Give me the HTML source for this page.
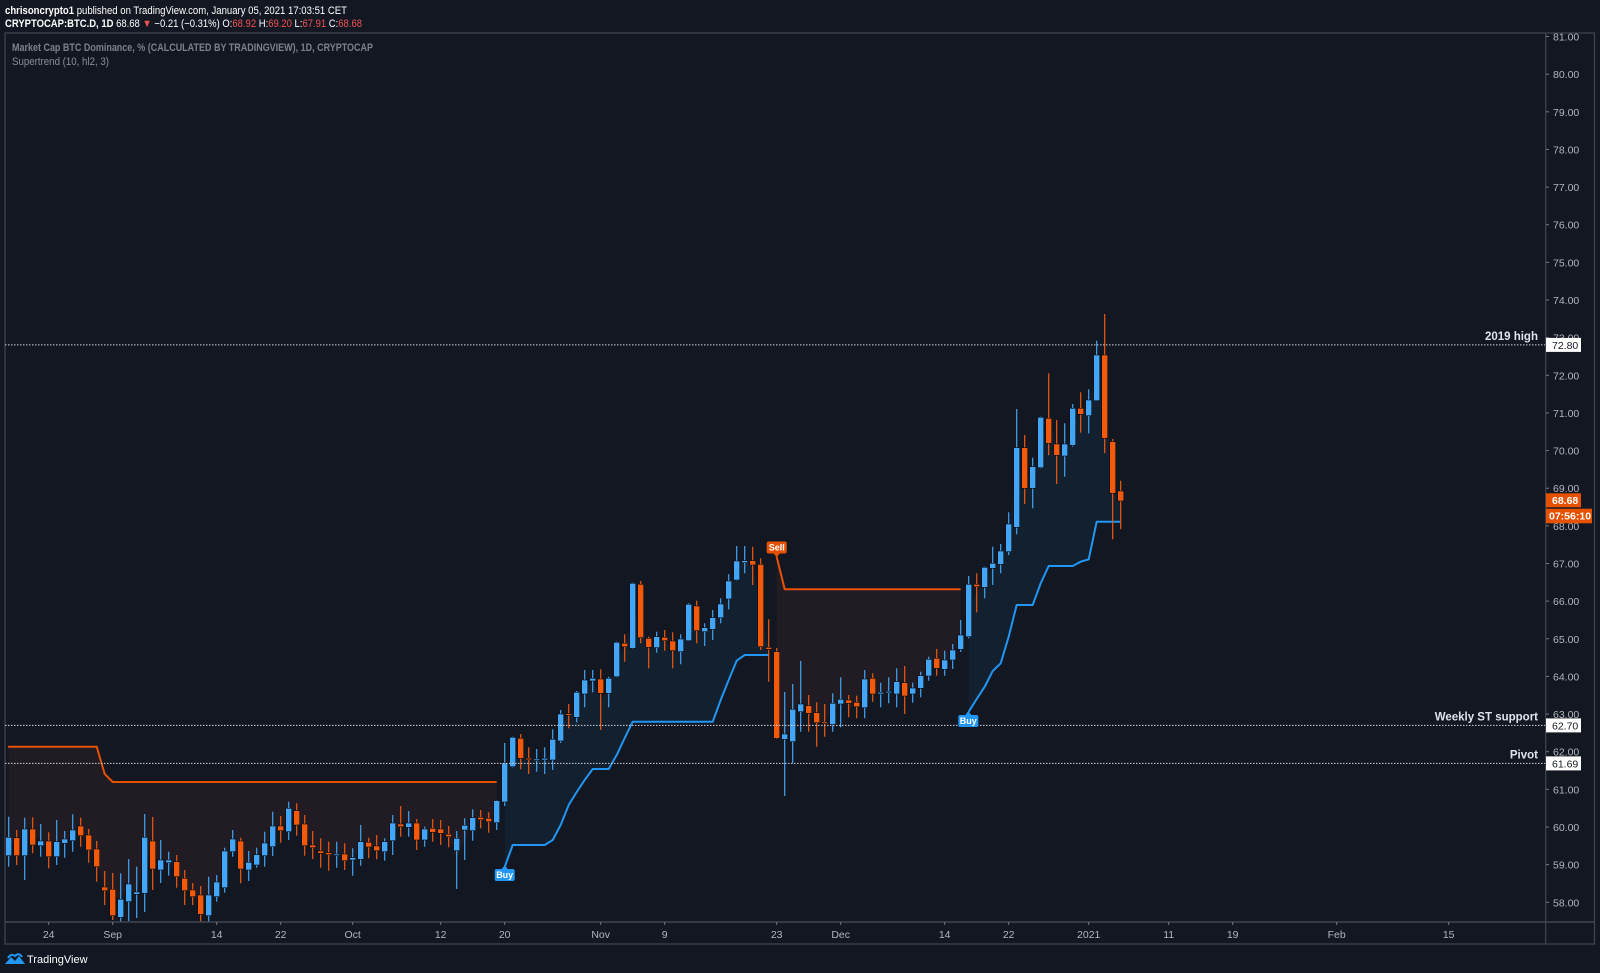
<!DOCTYPE html>
<html><head><meta charset="utf-8"><style>
html,body{margin:0;padding:0;background:#131722;}
svg{display:block;font-family:"Liberation Sans",sans-serif;}
</style></head><body>
<svg id="s" width="1600" height="973" viewBox="0 0 1600 973" xmlns="http://www.w3.org/2000/svg">
<rect width="1600" height="973" fill="#131722"/>
<g id="fills"></g>
<g id="lines"></g>
<g id="candles"></g>
<g id="ui"></g>
<text x="5" y="14" font-size="11" fill="#ffffff" textLength="342" lengthAdjust="spacingAndGlyphs"><tspan font-weight="bold">chrisoncrypto1</tspan> published on TradingView.com, January 05, 2021 17:03:51 CET</text>
<text x="5" y="27" font-size="11" fill="#ffffff" textLength="357" lengthAdjust="spacingAndGlyphs"><tspan font-weight="bold">CRYPTOCAP:BTC.D, 1D</tspan>  68.68 <tspan fill="#ef5350">▼</tspan> −0.21 (−0.31%) O:<tspan fill="#ef5350">68.92</tspan> H:<tspan fill="#ef5350">69.20</tspan> L:<tspan fill="#ef5350">67.91</tspan> C:<tspan fill="#ef5350">68.68</tspan></text>
<text x="12" y="51" font-size="11" font-weight="bold" fill="#7d808a" textLength="361" lengthAdjust="spacingAndGlyphs">Market Cap BTC Dominance, % (CALCULATED BY TRADINGVIEW), 1D, CRYPTOCAP</text>
<text x="12" y="65" font-size="11" fill="#8a8d96" textLength="97" lengthAdjust="spacingAndGlyphs">Supertrend (10, hl2, 3)</text>
<g transform="translate(4,953)"><path d="M1 11 L7 4 L11 8 L15 3 L21 11 Z" fill="#2196f3"/><path d="M4 5 Q7 0 11 3 Q15 -1 18 4" stroke="#2196f3" stroke-width="2" fill="none"/></g>
<text x="27" y="963" font-size="11" fill="#ffffff">TradingView</text>
</svg>
<script>
var D=[
"b 837.3 855.7 816.7 866.7","o 837.7 855.7 830 865","b 829 855.7 817.7 880","o 829 845 817.3 853.3","b 841 845.7 824 856.7",
"o 841 856.7 832.3 868.3","b 841.7 856.7 820 865","b 839 843.3 831 857.7","b 830 840.7 814.3 851.7","o 826 835.7 817.7 846.7",
"o 835 850 829 862.7","o 849 866.7 841 881.7","o 887 890.7 871 905","o 889.3 915.7 873 920","b 899.3 917.3 873.3 922",
"b 884 901.7 859 921","b 892 894.3 866.7 918","b 837.3 893.3 814 912","o 841 869 817 890","b 860 870 840 883",
"b 860 862.7 851.7 875.7","o 861.7 876.7 855 887.7","o 878.3 890.7 870 905","o 890 896.7 883 905","o 895 914.3 886 922",
"b 895 915.7 876.7 922","b 882 896.7 875 901.7","b 851 887.7 847.7 892.7","b 839 851.7 830 856.7","o 841 869 837.7 883.3",
"b 862.3 870 851 881","b 854.7 865 847.7 867.7","b 843 855.7 831.7 866.7","b 826 846.7 811.7 856","o 826 830.7 816 842.7",
"b 808.3 831.7 801.7 840","o 810.7 825 803.3 835.7","o 824 845.7 815 855.7","o 845 847.7 831 859","o 851 853.3 838.3 867.7",
"o 852.7 854.7 841.7 870.7","b 854 855.3 841.7 867.7","o 854 860.7 843.3 870","b 857.7 860 848.3 875.7","b 841.7 859.3 825 865.7",
"o 842.3 847 837.7 858.3","o 846 850.7 835 859.3","b 841.7 851.7 838.3 860.7","b 823 840.7 815 855","o 824 826.7 806 836.7",
"b 823 827.3 811 836.7","o 823 840 819 850","b 829 840 826.7 846.7","o 828.3 832.3 819 841.7","o 829 833.3 820 845",
"o 834.3 836.7 826 847.3","b 838.3 850.7 831 889","b 825.3 830 818.3 860","b 817.7 830.7 809.3 840.7","o 817.3 819.7 810 828.3",
"o 818.3 821.7 812.3 832.7","b 800.7 822.7 800 830","b 763 802 743 806","b 737.3 766.7 736.7 767.3","o 738.3 758.3 734 769.3",
"o 758.3 759.7 747.3 774","b 759 760 749 771.7","b 758.3 760 747.3 774","b 739.3 760 729.3 770","b 714 741 710 743",
"o 713.7 715 704 728.3","b 692.3 717.3 691 722.3","b 680 694 670 707.3","b 678.3 681 670 692.3","o 679 693.3 669.3 730",
"b 678.3 693.3 676.7 707.3","b 642.3 676.7 641.7 677.3","o 643.3 646.7 634.3 661.7","b 583.3 648.3 582.7 649","o 584.3 637.7 581 643.3",
"o 638.3 647.3 636.7 668.3","b 636.7 647.7 631.7 652.7","o 637.3 640.7 630 650.7","o 641 650.7 632.3 668.3","b 639 651.7 634.3 664.3",
"b 604.3 640.7 603.3 641","o 606 630.7 600.7 643.3","b 627.7 631.7 623.3 646","b 617.7 629.3 610 640","b 604 617.7 598.3 623.3",
"b 581 599 574.3 609.3","b 561 580 546 580.7","b 560.7 562.7 546 573.3","o 560.7 565 546.7 585","o 564.3 646.7 558.3 650",
"o 647.3 649.3 619.3 681.7","o 651.7 738.3 648 739","b 734 739.3 692 796","b 709.3 741.7 684 763.3","b 704 711.7 661 731.7",
"o 705.7 713.3 695 731.7","o 712.7 722.7 702.3 746.7","o 722 723.3 704 736.7","b 703.3 724.3 693.3 731.7","b 699.3 704 677.3 727.3",
"o 700 703.3 695 717.3","o 702.3 706.7 695.7 718.3","b 679 707.7 670 718.3","o 678.3 694 673.3 701.7","b 692.3 694 682.7 707.3",
"b 691.3 692.7 677.3 703.3","b 681.7 694 668.3 707.3","o 682.7 696 666 714","b 688 694 682.7 702.7","b 675.7 688.3 671.7 697.3",
"b 659.3 676 656.7 680.7","o 658.3 668.3 649 675.7","b 660 669.3 650.7 675.7","b 650 660 644 669","b 635 649.3 620 652",
"b 584.3 636.7 576 638.3","o 584.3 586.7 573.3 612.3","b 567.3 587.3 566.7 598.3","b 563.3 568.3 546.7 585","b 551 564.3 544 573.3",
"b 524 551.7 512.3 555","b 447.7 527.3 409 534.3","o 447.7 488.3 435 504","b 466.7 488.3 457.7 508.3","b 417.3 467.7 416.7 468.3",
"o 418.3 443.3 373.3 455.3","o 444 455.3 420 484","b 444 456 423.3 476.7","b 408.3 445.3 404 446.7","o 408.3 414.3 392.3 432.7",
"b 400 415.7 389.3 433.3","b 355 400.7 340.7 401","o 355 438.3 314 453.3","o 441.7 493.3 439 539.3","o 491 501 480.7 529.2"];
function X(i){return 48.7+8*(i-6);}
var ST={};
for(var i=1;i<=12;i++)ST[i]=746.7; ST[13]=774; for(i=14;i<=62;i++)ST[i]=782;
var b1={63:867,64:845,65:845,66:845,67:845,68:845,69:840,70:825,71:805,72:792,73:780,74:769,75:769,76:769,77:755,78:738,90:700,91:680,92:660.7,93:655,94:655,95:655,96:655};
for(i=79;i<=89;i++)b1[i]=721.7;
for(var k in b1)ST[k]=b1[k];
ST[97]=557; for(i=98;i<=120;i++)ST[i]=589.3;
var b2={121:711.7,122:699,123:686.7,124:671,125:663.3,126:636.7,127:605,128:605,129:605,130:583.3,131:566,132:566,133:566,134:566,135:561.7,136:559.3,137:521.7,138:521.7,139:521.7,140:521.7};
for(k in b2)ST[k]=b2[k];
var segs=[[1,62,'#e65100','#211b23'],[63,96,'#2196f3','#13202f'],[97,120,'#e65100','#211b23'],[121,140,'#2196f3','#13202f']];
var NS='http://www.w3.org/2000/svg';
function el(p,t,a){var e=document.createElementNS(NS,t);for(var q in a)e.setAttribute(q,a[q]);document.getElementById(p).appendChild(e);return e;}
var C=D.map(function(s){var p=s.split(' ');return{c:p[0],t:+p[1],b:+p[2],h:+p[3],l:+p[4]};});
segs.forEach(function(s){
  var a=s[0],z=s[1],pts=[],mid=[];
  for(var i=a;i<=z;i++){var c=C[i-1];pts.push(X(i)+','+ST[i]);mid.push(X(i)+','+((c.h+c.l)/2));}
  el('fills','polygon',{points:pts.concat(mid.reverse()).join(' '),fill:s[3]});
  var lp=pts.slice(); if(a==1)lp.unshift('8,746.7');
  el('lines','polyline',{points:lp.join(' '),fill:'none',stroke:s[2],'stroke-width':2});
});
C.forEach(function(c,j){
  var x=X(j+1),col=c.c=='b'?'#42a5f5':'#f2590b';
  el('candles','line',{x1:x,x2:x,y1:c.h,y2:c.l,stroke:col,'stroke-width':1.2});
  var h=Math.max(1.5,c.b-c.t);
  el('candles','rect',{x:x-3,y:c.t,width:6,height:h,fill:col,stroke:'#0b0e14','stroke-width':0.6});
});
el('ui','rect',{x:5,y:33,width:1589.5,height:911,fill:'none',stroke:'#434651','stroke-width':1.2});
el('ui','line',{x1:5,x2:1594.5,y1:922,y2:922,stroke:'#434651','stroke-width':1.5});
el('ui','line',{x1:1545.7,x2:1545.7,y1:33,y2:944,stroke:'#434651','stroke-width':1.2});
function Y(p){return 375.3+(72-p)*37.64;}
for(var p=58;p<=81;p++){var y=Y(p);
  el('ui','line',{x1:1546,x2:1549,y1:y,y2:y,stroke:'#787b86'});
  var t=el('ui','text',{x:1553,y:y+4,'font-size':10.5,fill:'#b2b5be'});t.textContent=p.toFixed(2);}
[['24',130],['Sep',138],['14',151],['22',159],['Oct',168],['12',179],['20',187],['Nov',199],['9',207],['23',221],['Dec',229],['14',242],['22',250],['2021',260],['11',270],['19',278],['Feb',291],['15',305]].forEach(function(q){
  var x=48.7+8*(q[1]-130);
  el('ui','line',{x1:x,x2:x,y1:922,y2:925,stroke:'#787b86'});
  var t=el('ui','text',{x:x,y:938,'font-size':10.5,fill:'#b2b5be','text-anchor':'middle'});t.textContent=q[0];});
[[344.9,'2019 high','72.80'],[725.4,'Weekly ST support','62.70'],[763.4,'Pivot','61.69']].forEach(function(h){
  el('ui','line',{x1:5,x2:1545,y1:h[0],y2:h[0],stroke:'#d1d4dc','stroke-width':1,'stroke-dasharray':'1.5,1.5'});
  var t=el('ui','text',{x:1538,y:h[0]-5,'font-size':11.5,'font-weight':'bold',fill:'#e0e3eb','text-anchor':'end'});t.textContent=h[1];
  el('ui','rect',{x:1546,y:h[0]-7,width:35,height:14,fill:'#ffffff'});
  var u=el('ui','text',{x:1552,y:h[0]+4,'font-size':10.5,fill:'#131722'});u.textContent=h[2];});
el('ui','rect',{x:1546,y:493.3,width:35,height:14,fill:'#e65100'});
var t=el('ui','text',{x:1552,y:504,'font-size':10.5,'font-weight':'bold',fill:'#ffffff'});t.textContent='68.68';
el('ui','rect',{x:1546,y:508.7,width:46,height:14.6,fill:'#e65100'});
t=el('ui','text',{x:1549,y:519.5,'font-size':10.5,'font-weight':'bold',fill:'#ffffff'});t.textContent='07:56:10';
function lab(x,y,txt,col,up){
  el('ui','rect',{x:x-10,y:y,width:20,height:12,rx:2,fill:col});
  if(up)el('ui','polygon',{points:(x-3)+','+y+' '+(x+3)+','+y+' '+x+','+(y-4),fill:col});
  else el('ui','polygon',{points:(x-3)+','+(y+12)+' '+(x+3)+','+(y+12)+' '+x+','+(y+16),fill:col});
  var t=el('ui','text',{x:x,y:y+9,'font-size':9,'font-weight':'bold',fill:'#ffffff','text-anchor':'middle'});t.textContent=txt;}
lab(504.7,869,'Buy','#2196f3',true);
lab(776.7,541.5,'Sell','#e65100',false);
lab(968.3,715,'Buy','#2196f3',true);
</script>
</body></html>
